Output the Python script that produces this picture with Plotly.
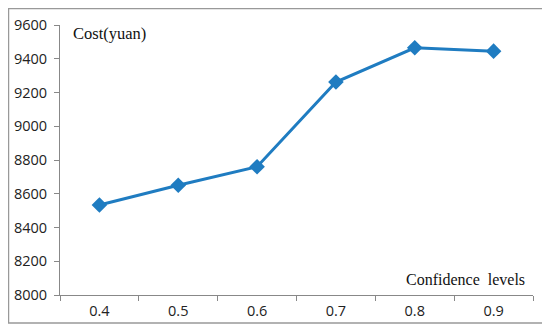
import plotly.graph_objects as go

categories = ["0.4", "0.5", "0.6", "0.7", "0.8", "0.9"]
cost = [8533, 8650, 8760, 9262, 9465, 9445]
y_ticks = [8000, 8200, 8400, 8600, 8800, 9000, 9200, 9400, 9600]

fig = go.Figure()
fig.add_trace(go.Scatter(
    x=categories, y=cost, mode="lines+markers",
    line=dict(color="#1f7cc1", width=3),
    marker=dict(symbol="diamond", size=12, color="#1f7cc1"),
    showlegend=False,
))

fig.update_layout(
    width=542, height=324,
    margin=dict(l=52, r=17, t=17, b=37),
    paper_bgcolor="white", plot_bgcolor="white",
    font=dict(family="Open Sans, Carlito, sans-serif", size=14.5, color="#222"),
    xaxis=dict(
        type="category", range=[-0.5, 5.5], tickson="boundaries",
        ticks="outside", ticklen=5, tickcolor="#888",
        showline=True, linecolor="#888", linewidth=1,
        showgrid=False, zeroline=False, automargin=False,
        tickfont=dict(size=14.5), ticklabelstandoff=3,
    ),
    yaxis=dict(
        range=[8000, 9600], tickvals=y_ticks,
        ticks="outside", ticklen=5, tickcolor="#888",
        showline=True, linecolor="#888", linewidth=1,
        showgrid=False, zeroline=False, automargin=False,
        tickfont=dict(size=14.5), ticklabelstandoff=4,
    ),
    shapes=[dict(type="rect", xref="paper", yref="paper",
                 x0=-0.1089, x1=1.0211, y0=-0.1037, y1=1.0611,
                 line=dict(color="#999", width=1.5))],
    annotations=[
        dict(text="Cost(yuan)", xref="paper", yref="paper", x=0.023, y=0.970,
             xanchor="left", yanchor="middle", showarrow=False,
             font=dict(family="Liberation Serif, Times New Roman, serif", size=16.5, color="#111")),
        dict(text="Confidence  levels", xref="paper", yref="paper", x=0.987, y=0.056,
             xanchor="right", yanchor="middle", showarrow=False,
             font=dict(family="Liberation Serif, Times New Roman, serif", size=16, color="#111")),
    ],
)

fig.write_html("out.html")
